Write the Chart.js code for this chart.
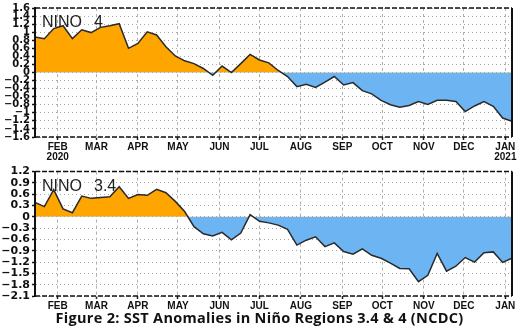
<!DOCTYPE html>
<html><head><meta charset="utf-8">
<script src="https://cdn.jsdelivr.net/npm/chart.js@4.4.0/dist/chart.umd.min.js"></script>
<style>
html,body{margin:0;padding:0;background:#fff;width:519px;height:336px;overflow:hidden;}
#c1{position:absolute;left:0;top:0;}
#c2{position:absolute;left:0;top:163px;}
#cap{position:absolute;left:0;top:310px;width:519px;text-align:center;font-family:"Open Sans",sans-serif;font-weight:700;font-size:14.5px;letter-spacing:0.3px;line-height:16px;color:#111;}
</style></head><body>
<canvas id="c1" width="519" height="163"></canvas>
<canvas id="c2" width="519" height="149"></canvas>
<div id="cap">Figure 2: SST Anomalies in Niño Regions 3.4 &amp; 4 (NCDC)</div>
<script>
// Weekly centre dates (Wednesdays)
const weekDates = [
 '2020-01-15','2020-01-22','2020-01-29',
 '2020-02-05','2020-02-12','2020-02-19','2020-02-26',
 '2020-03-04','2020-03-11','2020-03-18','2020-03-25',
 '2020-04-01','2020-04-08','2020-04-15','2020-04-22','2020-04-29',
 '2020-05-06','2020-05-13','2020-05-20','2020-05-27',
 '2020-06-03','2020-06-10','2020-06-17','2020-06-24',
 '2020-07-01','2020-07-08','2020-07-15','2020-07-22','2020-07-29',
 '2020-08-05','2020-08-12','2020-08-19','2020-08-26',
 '2020-09-02','2020-09-09','2020-09-16','2020-09-23','2020-09-30',
 '2020-10-07','2020-10-14','2020-10-21','2020-10-28',
 '2020-11-04','2020-11-11','2020-11-18','2020-11-25',
 '2020-12-02','2020-12-09','2020-12-16','2020-12-23','2020-12-30',
 '2021-01-06'
];
// NINO 4 SST anomalies (°C)
const nino4 = [
 0.88, 0.84, 1.09, 1.16, 0.84, 1.06, 0.99, 1.12, 1.16, 1.21,
 0.60, 0.72, 1.01, 0.93, 0.64, 0.41, 0.29, 0.22, 0.10, -0.07,
 0.16, 0.00, 0.22, 0.45, 0.31, 0.24, 0.05, -0.10, -0.35, -0.29,
 -0.37, -0.24, -0.10, -0.31, -0.25, -0.45, -0.53, -0.69, -0.80, -0.86,
 -0.82, -0.72, -0.79, -0.69, -0.69, -0.72, -0.97, -0.83, -0.72, -0.84,
 -1.13, -1.21
];
// NINO 3.4 SST anomalies (°C)
const nino34 = [
 0.38, 0.27, 0.72, 0.21, 0.11, 0.55, 0.49, 0.51, 0.53, 0.80,
 0.49, 0.59, 0.57, 0.73, 0.64, 0.41, 0.14, -0.26, -0.45, -0.51,
 -0.41, -0.61, -0.43, 0.06, -0.12, -0.16, -0.22, -0.33, -0.75, -0.62,
 -0.53, -0.79, -0.69, -0.92, -0.99, -0.85, -1.02, -1.10, -1.23, -1.37,
 -1.38, -1.72, -1.55, -0.97, -1.44, -1.31, -1.08, -1.20, -0.95, -0.93,
 -1.21, -1.10
];
const monthStarts = ['2020-02-01','2020-03-01','2020-04-01','2020-05-01','2020-06-01','2020-07-01',
 '2020-08-01','2020-09-01','2020-10-01','2020-11-01','2020-12-01','2021-01-01'];
const monthLabels = ['FEB','MAR','APR','MAY','JUN','JUL','AUG','SEP','OCT','NOV','DEC','JAN'];
const yearLabels = ['2020','','','','','','','','','','','2021'];
const panelNames = [['NINO','4'],['NINO','3.4']];
const axisStart = '2020-01-15', axisEnd = '2021-01-06';

const t0 = Date.parse(axisStart);
const dayOf = s => (Date.parse(s) - t0) / 86400000;

const ORANGE = '#FFA500', BLUE = '#6CB4F2';

function fmt(v){
  const r = Math.round(v*10)/10;
  return (r < 0 ? '\u2212' : '') + String(Math.abs(r));
}

function makeFrame(name){
  return {
    id:'frame',
    afterDatasetsDraw(chart){
      const {ctx, chartArea:a} = chart;
      ctx.save();
      ctx.strokeStyle = '#111';
      ctx.lineWidth = 1.5;
      ctx.setLineDash([5,2]);
      ctx.beginPath();
      ctx.moveTo(a.left, a.top); ctx.lineTo(a.right, a.top);
      ctx.moveTo(a.left, a.bottom); ctx.lineTo(a.right, a.bottom);
      ctx.stroke();
      ctx.setLineDash([]);
      ctx.lineWidth = 2;
      ctx.beginPath();
      ctx.moveTo(a.right, a.top); ctx.lineTo(a.right, a.bottom);
      ctx.moveTo(a.left, a.top); ctx.lineTo(a.left, a.bottom);
      ctx.stroke();
      ctx.fillStyle = '#222';
      ctx.font = '16px "Liberation Sans", Arial, sans-serif';
      ctx.textBaseline = 'alphabetic';
      ctx.fillText(name[0], a.left + 7, a.top + 19);
      ctx.fillText(name[1], a.left + 59, a.top + 19);
      ctx.restore();
    }
  };
}

function makeChart(id, values, name, cfg){
  const pts = weekDates.map((d,i) => ({x: dayOf(d), y: values[i]}));
  return new Chart(document.getElementById(id), {
    type: 'line',
    data: {datasets: [{
      data: pts,
      borderColor: '#2a2a2a', borderWidth: 1.5,
      pointRadius: 0, tension: 0,
      fill: {target: 'origin', above: ORANGE, below: BLUE}
    }]},
    options: {
      responsive: false, animation: false, devicePixelRatio: 1,
      layout: {padding: {top: cfg.padTop, right: 7, left: 0, bottom: 0}},
      plugins: {legend: {display: false}, tooltip: {enabled: false}},
      scales: {
        x: {
          type: 'linear', min: dayOf(axisStart), max: dayOf(axisEnd),
          afterBuildTicks: ax => { ax.ticks = monthStarts.map(s => ({value: dayOf(s)})); },
          afterFit: ax => { ax.height = cfg.xHeight; },
          ticks: {
            autoSkip: false, maxRotation: 0, minRotation: 0, padding: 2,
            color: '#111',
            font: {family: '"Liberation Sans Narrow", "Liberation Sans", Arial, sans-serif', weight: 'bold', size: 10, lineHeight: 1.0},
            callback: (v, i) => (cfg.years && yearLabels[i]) ? [monthLabels[i], yearLabels[i]] : monthLabels[i]
          },
          grid: {color: '#b0b0b0', lineWidth: 1, tickLength: 3, tickColor: '#222', tickWidth: 1.5, tickBorderDash: []},
          border: {display: false, dash: [3,3]}
        },
        y: {
          min: cfg.min, max: cfg.max,
          afterFit: ax => { ax.width = 35; },
          ticks: {
            stepSize: cfg.step, autoSkip: false, padding: 2, color: '#111',
            font: {family: '"DejaVu Sans", sans-serif', weight: 'bold', size: cfg.yFont},
            callback: v => fmt(v)
          },
          grid: {color: '#a8a8a8', lineWidth: 1, tickLength: 3, tickColor: '#111', tickWidth: 1.5, tickBorderDash: []},
          border: {display: true, color: '#111', width: 2, dash: [1,3]}
        }
      }
    },
    plugins: [makeFrame(name)]
  });
}

makeChart('c1', nino4, panelNames[0], {padTop: 8, xHeight: 26, min: -1.6, max: 1.6, step: 0.2, yFont: 10, years: true});
makeChart('c2', nino34, panelNames[1], {padTop: 3, xHeight: 16, min: -2.1, max: 1.2, step: 0.3, yFont: 11, years: false});
</script>
</body></html>
